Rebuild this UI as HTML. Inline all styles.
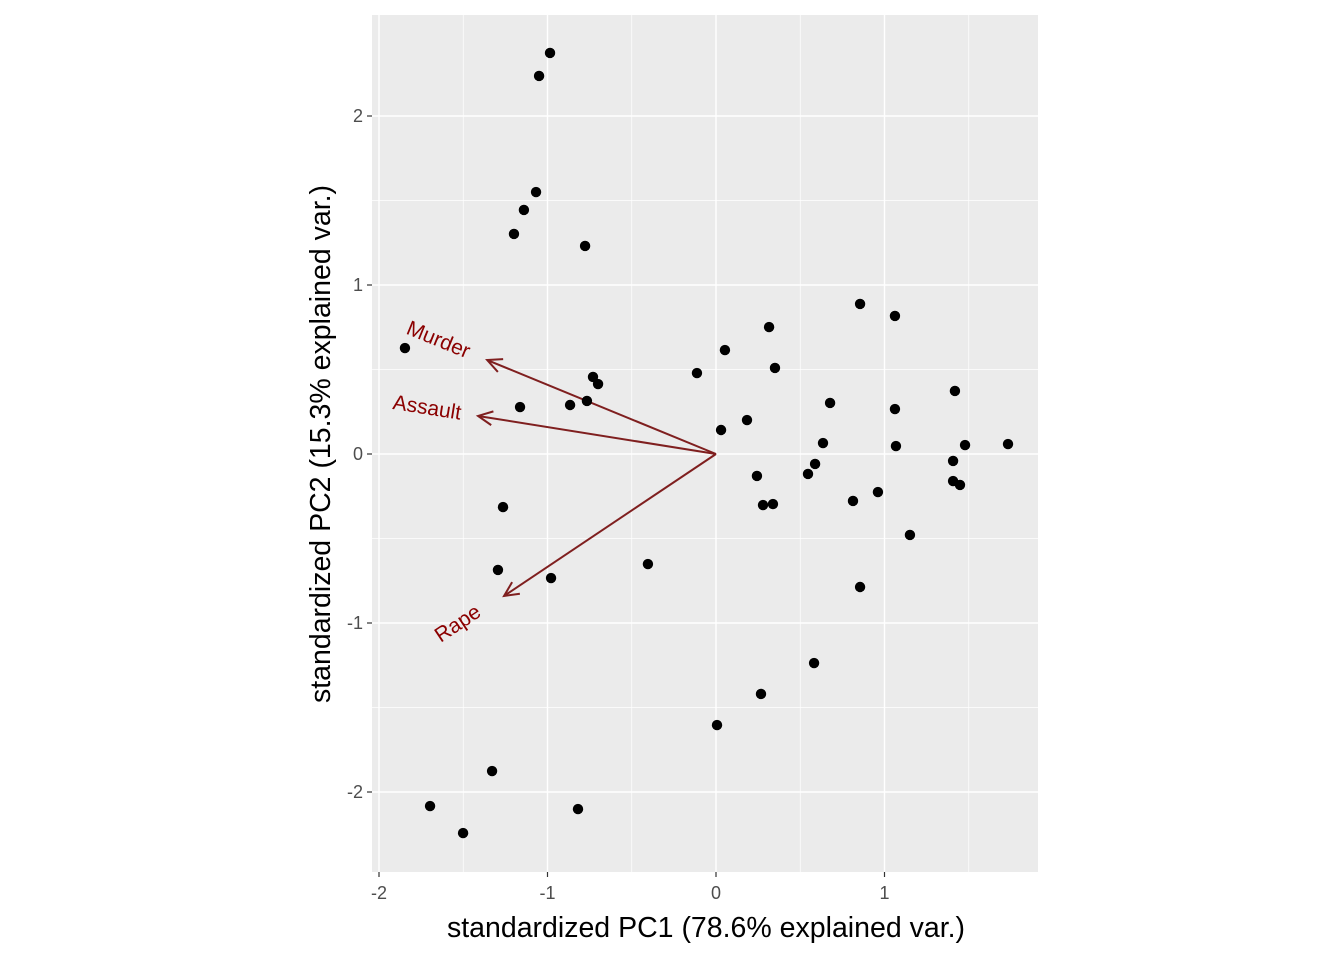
<!DOCTYPE html>
<html><head><meta charset="utf-8"><style>
body{margin:0;background:#fff;font-family:"Liberation Sans",sans-serif;}
</style></head><body>
<svg id="chart" width="1344" height="960" xmlns="http://www.w3.org/2000/svg" style="font-family:'Liberation Sans',sans-serif">
<rect x="372" y="15" width="666" height="857" fill="#ebebeb"/>
<g id="grid"></g>
<g id="arrows"></g>
<g id="points"></g>
<g id="axes"></g>
<text x="706" y="937" font-size="28.5" text-anchor="middle" fill="#000">standardized PC1 (78.6% explained var.)</text>
<text transform="translate(330,444) rotate(-90)" font-size="28.5" text-anchor="middle" fill="#000">standardized PC2 (15.3% explained var.)</text>
</svg>
<script>
const pc1 = [-0.985,-1.05,-1.068,-1.14,-1.199,-0.777,-1.846,0.855,1.062,0.315,0.053,-0.73,-0.70,-0.113,0.35,1.418,-1.163,-0.866,-0.766,0.677,1.062,0.184,0.03,0.635,1.068,1.478,1.733,1.407,0.588,0.546,0.243,1.407,1.448,0.961,0.813,0.279,0.338,1.151,-1.264,-0.404,-1.294,-0.979,0.855,0.582,0.267,0.006,-1.329,-1.697,-0.819,-1.501];
const pc2 = [2.373,2.237,1.55,1.444,1.302,1.231,0.627,0.888,0.817,0.751,0.615,0.456,0.414,0.479,0.509,0.373,0.278,0.29,0.314,0.302,0.266,0.201,0.142,0.065,0.047,0.053,0.059,-0.041,-0.059,-0.118,-0.13,-0.16,-0.183,-0.225,-0.278,-0.302,-0.296,-0.479,-0.314,-0.651,-0.686,-0.734,-0.787,-1.237,-1.42,-1.604,-1.876,-2.083,-2.101,-2.243];
const varNames = ["Murder","Assault","Rape"];
const varX = [-1.358,-1.412,-1.258];
const varY = [0.556,0.225,-0.84];
const xTicks = [-2,-1,0,1];
const yTicks = [-2,-1,0,1,2];
const xMinor = [-1.5,-0.5,0.5,1.5];
const yMinor = [-1.5,-0.5,0.5,1.5];

const X = v => 716 + v*168.5;
const Y = v => 454 - v*169;
const NS = "http://www.w3.org/2000/svg";
function mk(tag, attrs, parent){const e=document.createElementNS(NS,tag);for(const k in attrs)e.setAttribute(k,attrs[k]);parent.appendChild(e);return e;}
const grid=document.getElementById('grid'), pts=document.getElementById('points'), arr=document.getElementById('arrows'), ax=document.getElementById('axes');
xMinor.forEach(v=>{const l=mk('line',{x1:X(v),x2:X(v),y1:15,y2:872,stroke:'#fff','stroke-width':0.7},grid);

});
yMinor.forEach(v=>{const l=mk('line',{x1:372,x2:1038,y1:Y(v),y2:Y(v),stroke:'#fff','stroke-width':0.7},grid);

});
xTicks.forEach(v=>{const l=mk('line',{x1:X(v),x2:X(v),y1:15,y2:872,stroke:'#fff','stroke-width':1.4},grid);


const t=mk('line',{x1:X(v),x2:X(v),y1:872,y2:877,stroke:'#333','stroke-width':1.2},ax);


const tx=mk('text',{x:X(v),y:899,'font-size':18,'text-anchor':'middle',fill:'#4d4d4d'},ax);tx.textContent=v;

});
yTicks.forEach(v=>{const l=mk('line',{x1:372,x2:1038,y1:Y(v),y2:Y(v),stroke:'#fff','stroke-width':1.4},grid);


const t=mk('line',{x1:367,x2:372,y1:Y(v),y2:Y(v),stroke:'#333','stroke-width':1.2},ax);


const tx=mk('text',{x:363,y:Y(v)+6,'font-size':18,'text-anchor':'end',fill:'#4d4d4d'},ax);tx.textContent=v;

});
pc1.forEach((v,i)=>{const c=mk('circle',{cx:X(v),cy:Y(pc2[i]),r:5.2,fill:'#000'},pts);

});
varNames.forEach((n,i)=>{
 const x1=X(0),y1=Y(0),x2=X(varX[i]),y2=Y(varY[i]);
 const l=mk('line',{x1,y1,x2,y2,stroke:'#7f1f1f','stroke-width':2},arr);
 
 
 const a=Math.atan2(y2-y1,x2-x1), h=16, s=0.45;
 const p=mk('polyline',{points:`${x2-h*Math.cos(a-s)},${y2-h*Math.sin(a-s)} ${x2},${y2} ${x2-h*Math.cos(a+s)},${y2-h*Math.sin(a+s)}`,fill:'none',stroke:'#7f1f1f','stroke-width':2},arr);
 
 
 const ang=Math.atan2(y1-y2,x1-x2)*180/Math.PI;
 const lx=X(varX[i]*1.215), ly=Y(varY[i]*1.215)+(i===2?-2:1);
 const t=mk('text',{x:lx,y:ly,'font-size':21,fill:'#8b0000','text-anchor':'middle','dominant-baseline':'middle',transform:`rotate(${ang} ${lx} ${ly})`},arr);
 t.textContent=n;
 
 
});
</script>
</body></html>
